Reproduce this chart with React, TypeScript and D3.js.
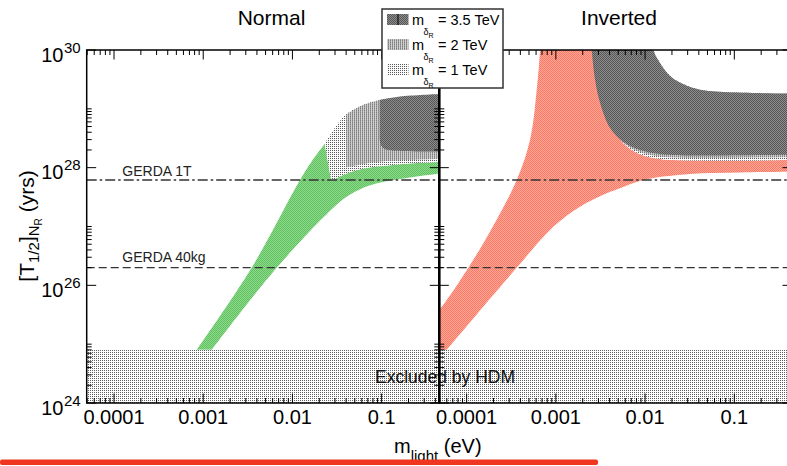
import React from 'react';
import * as d3 from 'd3';

type Pt = [number, number];

// ---------- data ----------
const PANEL_TITLES = ['Normal', 'Inverted'];
const X_DOMAIN: [number, number] = [4.94e-5, 0.443];
const Y_DOMAIN: [number, number] = [1e24, 1e30];
const X_MAJOR = [1e-4, 1e-3, 1e-2, 1e-1];
const X_TICK_LABELS = ['0.0001', '0.001', '0.01', '0.1'];
const Y_MAJOR = [1e24, 1e26, 1e28, 1e30];
const Y_TICK_EXP = ['24', '26', '28', '30'];
const GERDA_1T = 6.17e27;
const GERDA_40KG = 2.0e26;
const HDM_LIMIT = 8e24;
const LEGEND_LABELS = ['= 3.5 TeV', '= 2 TeV', '= 1 TeV'];

// Normal hierarchy
const NH_GREEN_UPPER: Pt[] = [[8.45e-4, 8e24], [3.49e-3, 1.99e26], [1.215e-2, 6.17e27], [1.656e-2, 1.3e28], [2.298e-2, 2.52e28]];
const NH_GREEN_LOWER: Pt[] = [[1.244e-3, 8e24], [6.66e-3, 1.99e26], [3.264e-2, 2.48e27], [4.65e-2, 3.64e27], [7.02e-2, 4.88e27], [0.1089, 5.82e27], [0.2077, 6.81e27], [0.443, 7.96e27]];
const NH_1TEV_CUT: Pt[] = [[2.298e-2, 2.52e28], [2.724e-2, 6.0e27]];
const NH_1TEV_UPPER: Pt[] = [[2.298e-2, 2.52e28], [3.05e-2, 4.94e28], [3.85e-2, 7.64e28], [5.43e-2, 1.07e29], [9.3e-2, 1.4e29], [0.443, 1.72e29]];
const NH_1TEV_LOWER: Pt[] = [[2.724e-2, 6.0e27], [3.41e-2, 7.08e27], [4.53e-2, 8.43e27], [6.79e-2, 9.86e27], [0.1081, 1.08e28], [0.2077, 1.18e28], [0.443, 1.25e28]];
const NH_2TEV_UPPER: Pt[] = [[4.01e-2, 8.02e28], [5.71e-2, 1.1e29], [9.09e-2, 1.39e29], [0.443, 1.74e29]];
const NH_2TEV_LOWER: Pt[] = [[4.01e-2, 1.01e28], [6.79e-2, 1.18e28], [0.1081, 1.28e28], [0.443, 1.4e28]];
const NH_35TEV_UPPER: Pt[] = [[9.5e-2, 1.42e29], [0.1604, 1.62e29], [0.443, 1.79e29]];
const NH_35TEV_LOWER: Pt[] = [[9.5e-2, 2.95e28], [9.95e-2, 2.33e28], [0.1117, 2.04e28], [0.141, 1.94e28], [0.443, 1.88e28]];

// Inverted hierarchy
const IH_RED_UPPER: Pt[] = [[3.89e-5, 2.65e25], [5.26e-5, 4.34e25], [1.045e-4, 1.99e26], [1.925e-4, 9.42e26], [3.64e-4, 6.17e27], [5.13e-4, 2.95e28], [6.1e-4, 2.09e29], [6.65e-4, 1e30], [6.91e-4, 3.2e30]];
const IH_RED_LOWER: Pt[] = [[3.89e-5, 3.69e24], [5.98e-5, 8e24], [3.64e-4, 1.99e26], [9.37e-4, 9.91e26], [1.866e-3, 2.17e27], [3.72e-3, 3.66e27], [5.24e-3, 4.46e27], [9.48e-3, 6.17e27], [3.19e-2, 7.8e27], [0.1159, 8.28e27], [0.5, 8.61e27]];
const IH_UPPER: Pt[] = [[1.166e-2, 3.2e30], [1.237e-2, 1e30], [1.47e-2, 6.01e29], [1.807e-2, 3.91e29], [2.28e-2, 2.97e29], [3.82e-2, 2.17e29], [7.47e-2, 1.93e29], [0.5, 1.82e29]];
const IH_35TEV_LOWER: Pt[] = [[2.415e-3, 3.2e30], [2.52e-3, 1e30], [2.75e-3, 3.09e29], [3.13e-3, 1.26e29], [4.05e-3, 4.72e28], [5.7e-3, 2.73e28], [8.78e-3, 2.0e28], [1.47e-2, 1.71e28], [3.19e-2, 1.61e28], [0.5, 1.67e28]];
const IH_2TEV_LOWER: Pt[] = [[2.58e-3, 3.2e30], [2.68e-3, 1e30], [2.93e-3, 3.09e29], [3.33e-3, 1.19e29], [4.32e-3, 4.37e28], [6.04e-3, 2.48e28], [9.01e-3, 1.81e28], [1.47e-2, 1.55e28], [3.19e-2, 1.46e28], [0.5, 1.52e28]];
const IH_1TEV_LOWER: Pt[] = [[2.75e-3, 3.2e30], [2.86e-3, 1e30], [3.13e-3, 3.09e29], [3.56e-3, 1.12e29], [4.6e-3, 4.04e28], [6.36e-3, 2.24e28], [9.24e-3, 1.64e28], [1.47e-2, 1.4e28], [3.19e-2, 1.32e28], [0.5, 1.35e28]];

// ---------- layout ----------
const W = 787, H = 466;
const TOP = 50, BOTTOM = 403;
const PANEL_X: [number, number][] = [[86.7, 439.3], [439.3, 792]];
const TITLE_X = [271.5, 619];
const FONT = 'Liberation Sans, Arial, Helvetica, sans-serif';

const rev = (a: Pt[]) => [...a].reverse();

function polygon(edges: Pt[][], x: (v: number) => number, y: (v: number) => number) {
  const lg = d3.line<Pt>().x(d => x(d[0])).y(d => y(d[1])).curve(d3.curveCatmullRom.alpha(0.5));
  let d = '';
  edges.forEach((e, i) => {
    const s = e.length === 1 ? `M${x(e[0][0])},${y(e[0][1])}` : (lg(e) as string);
    d += i === 0 ? s : 'L' + s.slice(1);
  });
  return d + 'Z';
}

export default function App() {
  const yS = d3.scaleLog().domain(Y_DOMAIN).range([BOTTOM, TOP]);
  const xS = PANEL_X.map(r => d3.scaleLog().domain(X_DOMAIN).range(r));

  const xMinor: number[] = [];
  for (let e = -5; e <= -1; e++) for (let k = 2; k <= 9; k++) {
    const v = k * Math.pow(10, e);
    if (v >= X_DOMAIN[0] && v <= X_DOMAIN[1]) xMinor.push(v);
  }
  const yMinor: number[] = [];
  [24, 26, 28].forEach(n => { for (let k = 2; k <= 10; k++) yMinor.push(k * Math.pow(10, n)); });

  const nhPaths = {
    green: polygon([NH_GREEN_UPPER, NH_1TEV_CUT, NH_1TEV_LOWER, rev(NH_GREEN_LOWER)], xS[0], yS),
    t1: polygon([NH_1TEV_UPPER, rev(NH_1TEV_LOWER), rev(NH_1TEV_CUT)], xS[0], yS),
    t2: polygon([NH_2TEV_UPPER, rev(NH_2TEV_LOWER)], xS[0], yS),
    t35: polygon([NH_35TEV_UPPER, rev(NH_35TEV_LOWER)], xS[0], yS),
  };
  const ihPaths = {
    red: polygon([IH_RED_UPPER, IH_1TEV_LOWER, rev(IH_RED_LOWER)], xS[1], yS),
    t1: polygon([IH_1TEV_LOWER, rev(IH_UPPER)], xS[1], yS),
    t2: polygon([IH_2TEV_LOWER, rev(IH_UPPER)], xS[1], yS),
    t35: polygon([IH_35TEV_LOWER, rev(IH_UPPER)], xS[1], yS),
  };

  const tickLines: JSX.Element[] = [];
  xS.forEach((x, p) => {
    X_MAJOR.forEach((v, i) => {
      const px = x(v);
      tickLines.push(<line key={`xM${p}${i}t`} x1={px} x2={px} y1={TOP} y2={TOP + 9.5} />);
      tickLines.push(<line key={`xM${p}${i}b`} x1={px} x2={px} y1={BOTTOM} y2={BOTTOM - 9.5} />);
    });
    xMinor.forEach((v, i) => {
      const px = x(v);
      tickLines.push(<line key={`xm${p}${i}t`} x1={px} x2={px} y1={TOP} y2={TOP + 5} />);
      tickLines.push(<line key={`xm${p}${i}b`} x1={px} x2={px} y1={BOTTOM} y2={BOTTOM - 5} />);
    });
  });
  const vAxes = [PANEL_X[0][0], PANEL_X[0][1], PANEL_X[1][1]];
  const yTick = (v: number, len: number, key: string) => {
    const py = yS(v);
    return [
      <line key={key + 'a'} x1={vAxes[0]} x2={vAxes[0] + len} y1={py} y2={py} />,
      <line key={key + 'b'} x1={vAxes[1] - len} x2={vAxes[1] + len} y1={py} y2={py} />,
      <line key={key + 'c'} x1={vAxes[2] - len} x2={vAxes[2]} y1={py} y2={py} />,
    ];
  };
  Y_MAJOR.forEach((v, i) => tickLines.push(...yTick(v, 9.5, `yM${i}`)));
  yMinor.forEach((v, i) => tickLines.push(...yTick(v, 5, `ym${i}`)));

  const legendFills = ['url(#pDark)', 'url(#pMid)', 'url(#pLight)'];
  const legendRows = [25, 50, 75];

  return (
    <svg width={W} height={H} style={{ position: 'absolute', left: 0, top: 0, background: '#fff' }} fontFamily={FONT}>
      <defs>
        <pattern id="pDark" width={2} height={2} patternUnits="userSpaceOnUse">
          <rect width={2} height={2} fill="#8c8c8c" />
          <rect width={1} height={1} fill="#555" />
          <rect x={1} y={1} width={1} height={1} fill="#5a5a5a" />
        </pattern>
        <pattern id="pMid" width={2} height={2} patternUnits="userSpaceOnUse">
          <rect width={2} height={2} fill="#cfcfcf" />
          <rect width={1} height={1} fill="#7e7e7e" />
          <rect y={1} width={1} height={1} fill="#9a9a9a" />
        </pattern>
        <pattern id="pLight" width={2} height={2} patternUnits="userSpaceOnUse">
          <rect width={2} height={2} fill="#fafafa" />
          <rect width={1} height={1} fill="#5a5a5a" />
        </pattern>
        <pattern id="pHdm" width={2} height={2} patternUnits="userSpaceOnUse">
          <rect width={2} height={2} fill="#fff" />
          <rect width={1} height={1} fill="#606060" />
        </pattern>
        <pattern id="pGreen" width={2} height={2} patternUnits="userSpaceOnUse">
          <rect width={2} height={2} fill="#8fd98f" />
          <rect width={1} height={1} fill="#5fc25f" />
          <rect x={1} y={1} width={1} height={1} fill="#5fc25f" />
        </pattern>
        <pattern id="pRed" width={2} height={2} patternUnits="userSpaceOnUse">
          <rect width={2} height={2} fill="#fda898" />
          <rect width={1} height={1} fill="#fa7864" />
          <rect x={1} y={1} width={1} height={1} fill="#fa7864" />
        </pattern>
        {PANEL_X.map((r, i) => (
          <clipPath id={`clip${i}`} key={i}>
            <rect x={r[0]} y={TOP} width={r[1] - r[0]} height={BOTTOM - TOP} />
          </clipPath>
        ))}
      </defs>

      <g clipPath="url(#clip0)">
        <path d={nhPaths.green} fill="url(#pGreen)" />
        <path d={nhPaths.t1} fill="url(#pLight)" />
        <path d={nhPaths.t2} fill="url(#pMid)" />
        <path d={nhPaths.t35} fill="url(#pDark)" />
      </g>
      <g clipPath="url(#clip1)">
        <path d={ihPaths.red} fill="url(#pRed)" />
        <path d={ihPaths.t1} fill="url(#pLight)" />
        <path d={ihPaths.t2} fill="url(#pMid)" />
        <path d={ihPaths.t35} fill="url(#pDark)" />
      </g>

      <rect x={PANEL_X[0][0]} y={yS(HDM_LIMIT)} width={PANEL_X[1][1] - PANEL_X[0][0]} height={yS(Y_DOMAIN[0]) - yS(HDM_LIMIT)} fill="url(#pHdm)" />

      <line x1={PANEL_X[0][0]} x2={PANEL_X[1][1]} y1={yS(GERDA_1T)} y2={yS(GERDA_1T)} stroke="#333" strokeWidth={1.3} strokeDasharray="10 3 2.5 3" />
      <line x1={PANEL_X[0][0]} x2={PANEL_X[1][1]} y1={yS(GERDA_40KG)} y2={yS(GERDA_40KG)} stroke="#333" strokeWidth={1.3} strokeDasharray="8 4" />
      <text x={122.3} y={yS(GERDA_1T) - 4.5} fontSize={14} fill="#222">GERDA 1T</text>
      <text x={122.3} y={yS(GERDA_40KG) - 5.5} fontSize={14} fill="#222">GERDA 40kg</text>
      <text x={375} y={383} fontSize={17.5} fill="#111">Excluded by HDM</text>

      <g stroke="#000" strokeWidth={1}>{tickLines}</g>
      <g fill="none" stroke="#000">
        <rect x={PANEL_X[0][0]} y={TOP} width={PANEL_X[0][1] - PANEL_X[0][0]} height={BOTTOM - TOP} strokeWidth={1.5} />
        <rect x={PANEL_X[1][0]} y={TOP} width={PANEL_X[1][1] - PANEL_X[1][0]} height={BOTTOM - TOP} strokeWidth={1.5} />
        <line x1={PANEL_X[0][1]} x2={PANEL_X[0][1]} y1={TOP} y2={BOTTOM} strokeWidth={2.5} />
      </g>

      {Y_MAJOR.map((v, i) => (
        <g key={`yl${i}`} fill="#000">
          <text x={63.5} y={yS(v) + 11.5} fontSize={20} textAnchor="end">10</text>
          <text x={64} y={yS(v) + 2.5} fontSize={15}>{Y_TICK_EXP[i]}</text>
        </g>
      ))}
      {xS.map((x, p) => X_MAJOR.map((v, i) => (
        <text key={`xl${p}${i}`} x={x(v)} y={424} fontSize={20} textAnchor="middle">{X_TICK_LABELS[i]}</text>
      )))}

      <text x={394} y={453} fontSize={20}>m<tspan dy={8} fontSize={15}>light</tspan><tspan dy={-8} fontSize={20}> (eV)</tspan></text>
      <text transform="translate(34,226) rotate(-90)" fontSize={21} textAnchor="middle">[T<tspan dy={5} fontSize={15}>1/2</tspan><tspan dy={-5} fontSize={21}>]</tspan><tspan dy={5} fontSize={15}>N</tspan><tspan dy={3} fontSize={10}>R</tspan><tspan dy={-8} fontSize={21}> (yrs)</tspan></text>

      {PANEL_TITLES.map((t, i) => (
        <text key={t} x={TITLE_X[i]} y={25} fontSize={21} textAnchor="middle">{t}</text>
      ))}

      <g>
        <rect x={382} y={9} width={121} height={79} fill="#fff" stroke="#333" strokeWidth={1.5} />
        {LEGEND_LABELS.map((lab, i) => (
          <g key={lab}>
            <rect x={387} y={legendRows[i] - 11} width={21.5} height={11} fill={legendFills[i]} />
            {i === 0 && <line x1={398} x2={398} y1={legendRows[i] - 11} y2={legendRows[i]} stroke="#000" strokeWidth={1} />}
            <text x={412} y={legendRows[i]} fontSize={14.5}>m</text>
            <text x={423.5} y={legendRows[i] + 10} fontSize={9}>δ</text>
            <text x={428.5} y={legendRows[i] + 12.5} fontSize={7}>R</text>
            <text x={438} y={legendRows[i]} fontSize={14.5}>{lab}</text>
          </g>
        ))}
      </g>

      <rect x={0} y={459.5} width={598} height={5.5} rx={2} fill="#f0361f" />
    </svg>
  );
}
